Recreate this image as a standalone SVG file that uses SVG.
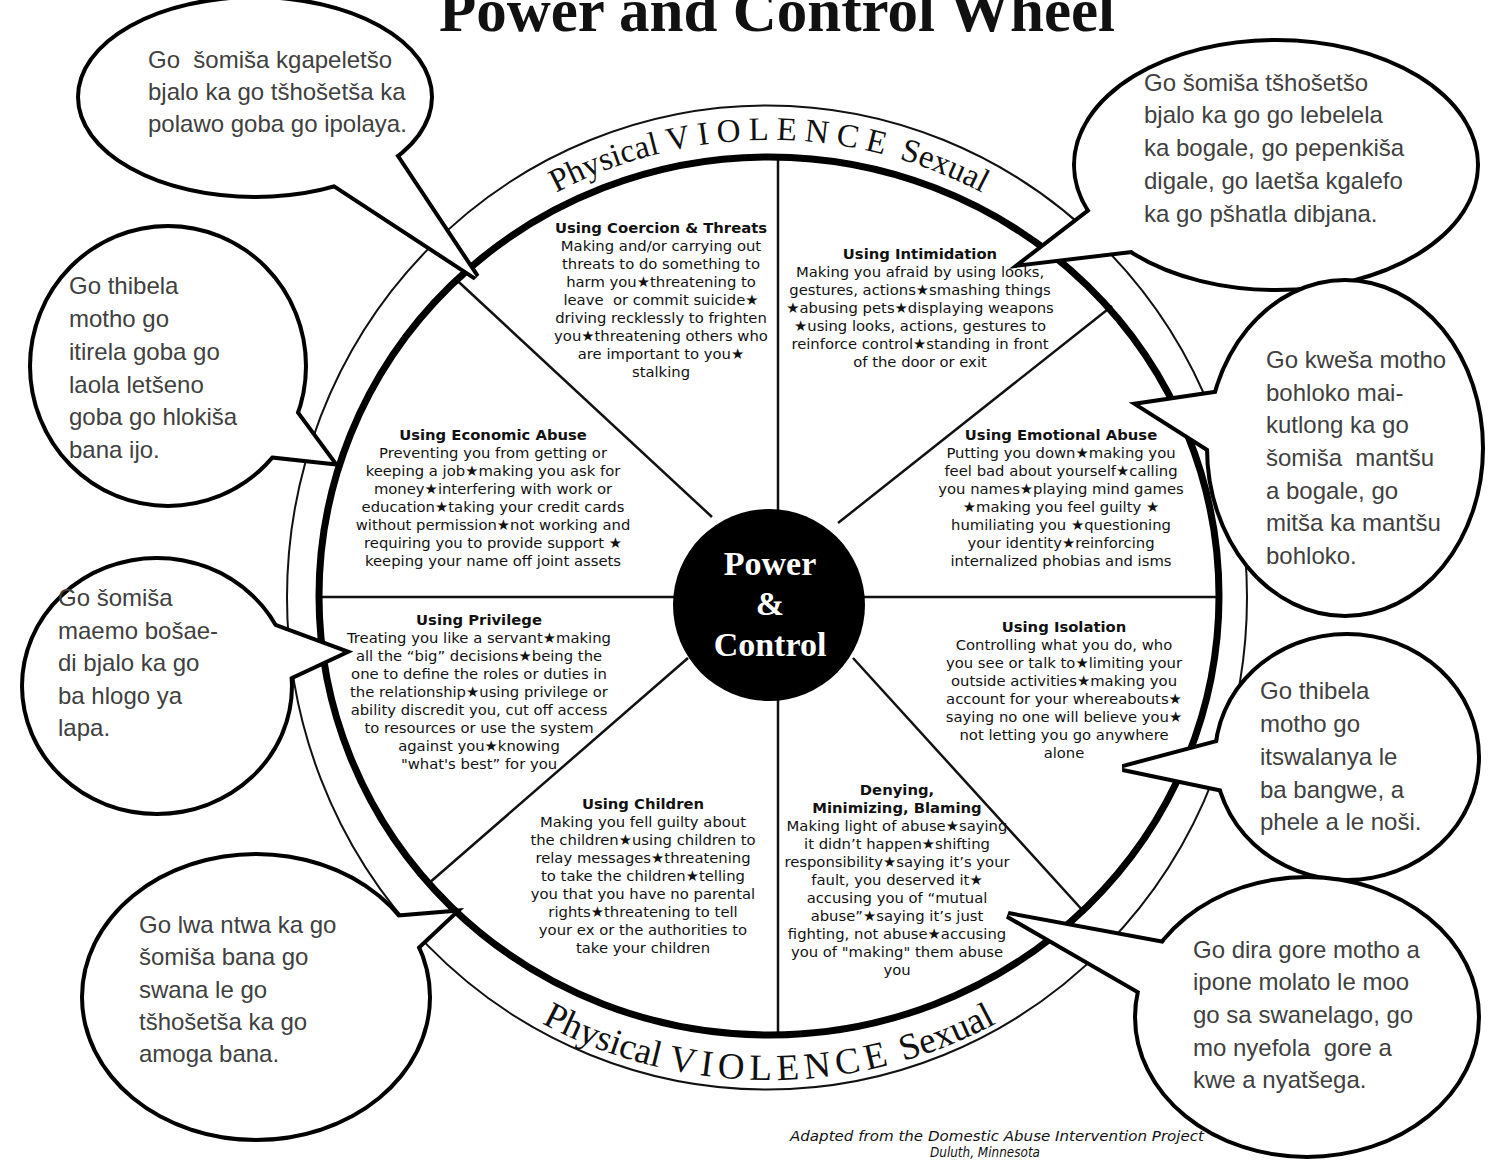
<svg xmlns="http://www.w3.org/2000/svg" width="1505" height="1160" viewBox="0 0 1505 1160">
<defs>
<style>
.t{font-family:"DejaVu Sans",Verdana,sans-serif;font-size:14.8px;fill:#111;text-anchor:middle}
.h{font-weight:bold}
.b{font-family:"Liberation Sans",Arial,sans-serif;font-size:24px;fill:#404040}
.bs{fill:#fff;stroke:#000;stroke-width:8}
.bf{fill:#fff;stroke:none}
.dv{stroke:#111;stroke-width:2.5;fill:none}
.band{font-family:"Liberation Serif","Times New Roman",serif;fill:#111}
.pc{font-family:"Liberation Serif","Times New Roman",serif;font-weight:bold;font-size:34px;fill:#fff;text-anchor:middle}
.pre{white-space:pre}
</style>
<path id="topArc" d="M 313,596 A 456,456 0 0,1 1225,596"/>
<path id="botArc" d="M 285,596 A 484,484 0 0,0 1253,596"/>
</defs>
<rect width="1505" height="1160" fill="#fff"/>
<text x="777" y="31" font-family="Liberation Serif,'Times New Roman',serif" font-weight="bold" font-size="61" text-anchor="middle" fill="#111">Power and Control Wheel</text>

<g id="wheel">
<ellipse cx="767" cy="597.5" rx="480" ry="492" fill="none" stroke="#111" stroke-width="2"/>
<g id="connectors">
<line class="dv" x1="778" y1="157" x2="778" y2="1035"/>
<line class="dv" x1="319" y1="597" x2="1219" y2="597"/>
<line class="dv" x1="455" y1="278.5" x2="712" y2="517"/>
<line class="dv" x1="838" y1="523" x2="1112" y2="306"/>
<line class="dv" x1="428" y1="884" x2="688" y2="658"/>
<line class="dv" x1="853" y1="658" x2="1085" y2="913"/>
</g>
<ellipse cx="769" cy="596" rx="450" ry="439" fill="none" stroke="#000" stroke-width="7"/>
<text class="band" font-size="33"><textPath href="#topArc" startOffset="50%" text-anchor="middle">Physical <tspan letter-spacing="7.5">VIOLENCE</tspan> Sexual</textPath></text>
<text class="band" font-size="37"><textPath href="#botArc" startOffset="50%" text-anchor="middle">Physical <tspan letter-spacing="5.5">VIOLENCE</tspan> Sexual</textPath></text>
</g>

<g id="center">
<circle cx="769" cy="605" r="96" fill="#000"/>
<text class="pc" x="770" y="575">Power</text>
<text class="pc" x="770" y="615">&amp;</text>
<text class="pc" x="770" y="656">Control</text>
</g>

<g id="coercion">
<text class="t"><tspan class="h" x="661" y="233">Using Coercion &amp; Threats</tspan><tspan x="661" dy="18">Making and/or carrying out</tspan><tspan x="661" dy="18">threats to do something to</tspan><tspan x="661" dy="18">harm you★threatening to</tspan><tspan class="pre" x="661" dy="18">leave  or commit suicide★</tspan><tspan x="661" dy="18">driving recklessly to frighten</tspan><tspan x="661" dy="18">you★threatening others who</tspan><tspan x="661" dy="18">are important to you★</tspan><tspan x="661" dy="18">stalking</tspan></text>
</g>
<g id="intimidation">
<text class="t"><tspan class="h" x="920" y="259">Using Intimidation</tspan><tspan x="920" dy="18">Making you afraid by using looks,</tspan><tspan x="920" dy="18">gestures, actions★smashing things</tspan><tspan x="920" dy="18">★abusing pets★displaying weapons</tspan><tspan x="920" dy="18">★using looks, actions, gestures to</tspan><tspan x="920" dy="18">reinforce control★standing in front</tspan><tspan x="920" dy="18">of the door or exit</tspan></text>
</g>
<g id="economic">
<text class="t"><tspan class="h" x="493" y="440">Using Economic Abuse</tspan><tspan x="493" dy="18">Preventing you from getting or</tspan><tspan x="493" dy="18">keeping a job★making you ask for</tspan><tspan x="493" dy="18">money★interfering with work or</tspan><tspan x="493" dy="18">education★taking your credit cards</tspan><tspan x="493" dy="18">without permission★not working and</tspan><tspan x="493" dy="18">requiring you to provide support ★</tspan><tspan x="493" dy="18">keeping your name off joint assets</tspan></text>
</g>
<g id="emotional">
<text class="t"><tspan class="h" x="1061" y="440">Using Emotional Abuse</tspan><tspan x="1061" dy="18">Putting you down★making you</tspan><tspan x="1061" dy="18">feel bad about yourself★calling</tspan><tspan x="1061" dy="18">you names★playing mind games</tspan><tspan x="1061" dy="18">★making you feel guilty ★</tspan><tspan x="1061" dy="18">humiliating you ★questioning</tspan><tspan x="1061" dy="18">your identity★reinforcing</tspan><tspan x="1061" dy="18">internalized phobias and isms</tspan></text>
</g>
<g id="privilege">
<text class="t"><tspan class="h" x="479" y="625">Using Privilege</tspan><tspan x="479" dy="18">Treating you like a servant★making</tspan><tspan x="479" dy="18">all the “big” decisions★being the</tspan><tspan x="479" dy="18">one to define the roles or duties in</tspan><tspan x="479" dy="18">the relationship★using privilege or</tspan><tspan x="479" dy="18">ability discredit you, cut off access</tspan><tspan x="479" dy="18">to resources or use the system</tspan><tspan x="479" dy="18">against you★knowing</tspan><tspan x="479" dy="18">"what's best” for you</tspan></text>
</g>
<g id="isolation">
<text class="t"><tspan class="h" x="1064" y="632">Using Isolation</tspan><tspan x="1064" dy="18">Controlling what you do, who</tspan><tspan x="1064" dy="18">you see or talk to★limiting your</tspan><tspan x="1064" dy="18">outside activities★making you</tspan><tspan x="1064" dy="18">account for your whereabouts★</tspan><tspan x="1064" dy="18">saying no one will believe you★</tspan><tspan x="1064" dy="18">not letting you go anywhere</tspan><tspan x="1064" dy="18">alone</tspan></text>
</g>
<g id="children">
<text class="t"><tspan class="h" x="643" y="809">Using Children</tspan><tspan x="643" dy="18">Making you fell guilty about</tspan><tspan x="643" dy="18">the children★using children to</tspan><tspan x="643" dy="18">relay messages★threatening</tspan><tspan x="643" dy="18">to take the children★telling</tspan><tspan x="643" dy="18">you that you have no parental</tspan><tspan x="643" dy="18">rights★threatening to tell</tspan><tspan x="643" dy="18">your ex or the authorities to</tspan><tspan x="643" dy="18">take your children</tspan></text>
</g>
<g id="denying">
<text class="t"><tspan class="h" x="897" y="795">Denying,</tspan><tspan class="h" x="897" dy="18">Minimizing, Blaming</tspan><tspan x="897" dy="18">Making light of abuse★saying</tspan><tspan x="897" dy="18">it didn’t happen★shifting</tspan><tspan x="897" dy="18">responsibility★saying it’s your</tspan><tspan x="897" dy="18">fault, you deserved it★</tspan><tspan x="897" dy="18">accusing you of “mutual</tspan><tspan x="897" dy="18">abuse”★saying it’s just</tspan><tspan x="897" dy="18">fighting, not abuse★accusing</tspan><tspan x="897" dy="18">you of "making" them abuse</tspan><tspan x="897" dy="18">you</tspan></text>
</g>

<g id="footer" font-family="'DejaVu Sans',Verdana,sans-serif" font-style="italic" font-size="13.5" fill="#111">
<text x="790" y="1141" textLength="414" lengthAdjust="spacingAndGlyphs">Adapted from the Domestic Abuse Intervention Project</text>
<text x="930" y="1157" textLength="110" lengthAdjust="spacingAndGlyphs">Duluth, Minnesota</text>
</g>

<g id="bubble1">
<ellipse class="bs" cx="255" cy="97" rx="175" ry="98"/><polygon class="bs" points="331,182 476,277 393,152"/>
<ellipse class="bf" cx="255" cy="97" rx="175" ry="98"/><polygon class="bf" points="331,182 476,277 393,152"/>
<text class="b"><tspan class="pre" x="148" y="68">Go  šomiša kgapeletšo</tspan><tspan x="148" y="100">bjalo ka go tšhošetša ka</tspan><tspan x="148" y="132">polawo goba go ipolaya.</tspan></text>
</g>
<g id="bubble2">
<ellipse class="bs" cx="1276" cy="165" rx="200" ry="123"/><polygon class="bs" points="1105,200 1023,263 1140,249"/>
<ellipse class="bf" cx="1276" cy="165" rx="200" ry="123"/><polygon class="bf" points="1105,200 1023,263 1140,249"/>
<text class="b"><tspan x="1144" y="91">Go šomiša tšhošetšo</tspan><tspan x="1144" y="123">bjalo ka go go lebelela</tspan><tspan x="1144" y="156">ka bogale, go pepenkiša</tspan><tspan x="1144" y="189">digale, go laetša kgalefo</tspan><tspan x="1144" y="222">ka go pšhatla dibjana.</tspan></text>
</g>
<g id="bubble3">
<ellipse class="bs" cx="168" cy="366" rx="136" ry="138"/><polygon class="bs" points="290,405 332,462 268,455"/>
<ellipse class="bf" cx="168" cy="366" rx="136" ry="138"/><polygon class="bf" points="290,405 332,462 268,455"/>
<text class="b"><tspan x="69" y="294">Go thibela</tspan><tspan x="69" y="327">motho go</tspan><tspan x="69" y="360">itirela goba go</tspan><tspan x="69" y="393">laola letšeno</tspan><tspan x="69" y="425">goba go hlokiša</tspan><tspan x="69" y="458">bana ijo.</tspan></text>
</g>
<g id="bubble4">
<ellipse class="bs" cx="157" cy="686" rx="133" ry="126"/><polygon class="bs" points="270,625 343,652 283,680"/>
<ellipse class="bf" cx="157" cy="686" rx="133" ry="126"/><polygon class="bf" points="270,625 343,652 283,680"/>
<text class="b"><tspan x="58" y="606">Go šomiša</tspan><tspan x="58" y="639">maemo bošae-</tspan><tspan x="58" y="671">di bjalo ka go</tspan><tspan x="58" y="704">ba hlogo ya</tspan><tspan x="58" y="736">lapa.</tspan></text>
</g>
<g id="bubble5">
<ellipse class="bs" cx="256" cy="997" rx="172" ry="141"/><polygon class="bs" points="392,918 453,913 405,958"/>
<ellipse class="bf" cx="256" cy="997" rx="172" ry="141"/><polygon class="bf" points="392,918 453,913 405,958"/>
<text class="b"><tspan x="139" y="933">Go lwa ntwa ka go</tspan><tspan x="139" y="965">šomiša bana go</tspan><tspan x="139" y="998">swana le go</tspan><tspan x="139" y="1030">tšhošetša ka go</tspan><tspan x="139" y="1062">amoga bana.</tspan></text>
</g>
<g id="bubble6">
<ellipse class="bs" cx="1345" cy="448" rx="136" ry="166"/><polygon class="bs" points="1228,392 1140,405 1222,457"/>
<ellipse class="bf" cx="1345" cy="448" rx="136" ry="166"/><polygon class="bf" points="1228,392 1140,405 1222,457"/>
<text class="b"><tspan x="1266" y="368">Go kweša motho</tspan><tspan x="1266" y="401">bohloko mai-</tspan><tspan x="1266" y="433">kutlong ka go</tspan><tspan class="pre" x="1266" y="466">šomiša  mantšu</tspan><tspan x="1266" y="499">a bogale, go</tspan><tspan x="1266" y="531">mitša ka mantšu</tspan><tspan x="1266" y="564">bohloko.</tspan></text>
</g>
<g id="bubble7">
<ellipse class="bs" cx="1347" cy="757" rx="130" ry="121"/><polygon class="bs" points="1228,740 1123,768 1228,790"/>
<ellipse class="bf" cx="1347" cy="757" rx="130" ry="121"/><polygon class="bf" points="1228,740 1123,768 1228,790"/>
<text class="b"><tspan x="1260" y="699">Go thibela</tspan><tspan x="1260" y="732">motho go</tspan><tspan x="1260" y="765">itswalanya le</tspan><tspan x="1260" y="798">ba bangwe, a</tspan><tspan x="1260" y="830">phele a le noši.</tspan></text>
</g>
<g id="bubble8">
<ellipse class="bs" cx="1307" cy="1017" rx="170" ry="138"/><polygon class="bs" points="1175,946 1008,915 1150,997"/>
<ellipse class="bf" cx="1307" cy="1017" rx="170" ry="138"/><polygon class="bf" points="1175,946 1008,915 1150,997"/>
<text class="b"><tspan x="1193" y="958">Go dira gore motho a</tspan><tspan x="1193" y="990">ipone molato le moo</tspan><tspan x="1193" y="1023">go sa swanelago, go</tspan><tspan class="pre" x="1193" y="1056">mo nyefola  gore a</tspan><tspan x="1193" y="1088">kwe a nyatšega.</tspan></text>
</g>
</svg>
